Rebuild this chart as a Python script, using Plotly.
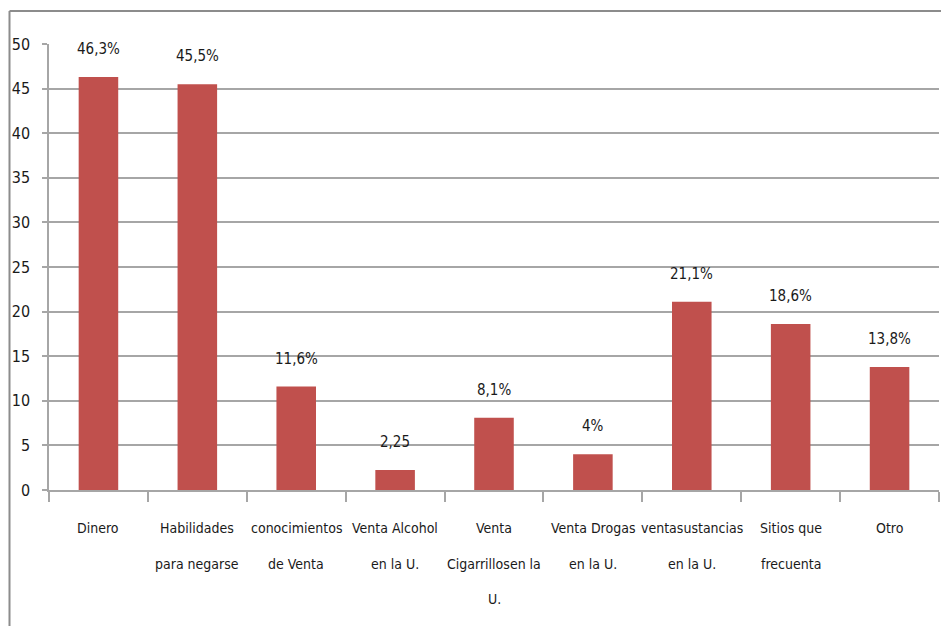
import plotly.graph_objects as go

# Survey categories (multi-line labels) and their percentages
categories = [
    "Dinero",
    "Habilidades<br>para negarse",
    "conocimientos<br>de Venta",
    "Venta Alcohol<br>en la U.",
    "Venta<br>Cigarrillosen la<br>U.",
    "Venta Drogas<br>en la U.",
    "ventasustancias<br>en la U.",
    "Sitios que<br>frecuenta",
    "Otro",
]
values = [46.3, 45.5, 11.6, 2.25, 8.1, 4, 21.1, 18.6, 13.8]
value_labels = ["46,3%", "45,5%", "11,6%", "2,25", "8,1%", "4%", "21,1%", "18,6%", "13,8%"]
y_ticks = [0, 5, 10, 15, 20, 25, 30, 35, 40, 45, 50]

FONT = "DejaVu Sans Condensed"
TEXT = "#1a1a1a"
GRID = "#a6a6a6"
BAR = "#C0504D"

W, H = 941, 626
L, R, T, B = 49, 2, 44, 136
PW, PH = W - L - R, H - T - B

fig = go.Figure(
    go.Bar(
        x=categories,
        y=values,
        marker=dict(color=BAR, line=dict(width=0)),
        hoverinfo="skip",
    )
)

annotations = []
# value labels above each bar
for cat, v, lab in zip(categories, values, value_labels):
    annotations.append(dict(
        x=cat, y=v, xref="x", yref="y", text=lab, showarrow=False,
        yanchor="middle", yshift=28,
        font=dict(family=FONT, size=15, color=TEXT),
    ))
# category labels below the axis, one annotation per line for wider spacing
for cat in categories:
    for i, line in enumerate(cat.split("<br>")):
        annotations.append(dict(
            x=cat, y=0, xref="x", yref="y", text=line, showarrow=False,
            yanchor="middle", yshift=-(38 + 35.5 * i),
            font=dict(family=FONT, size=14, color=TEXT),
        ))

def px_x(p):
    return (p - L) / PW

def px_y(p):
    return (H - B - p) / PH

shapes = [
    # outer frame: top and left edges
    dict(type="line", xref="paper", yref="paper",
         x0=px_x(9.5), x1=px_x(941), y0=px_y(11), y1=px_y(11),
         line=dict(color="#8c8c8c", width=2)),
    dict(type="line", xref="paper", yref="paper",
         x0=px_x(9.5), x1=px_x(9.5), y0=px_y(11), y1=px_y(626),
         line=dict(color="#8c8c8c", width=2)),
]

fig.update_layout(
    width=W, height=H,
    margin=dict(l=L, r=R, t=T, b=B, pad=0),
    paper_bgcolor="white", plot_bgcolor="white",
    bargap=0.6,
    showlegend=False,
    annotations=annotations,
    shapes=shapes,
    font=dict(family=FONT, size=15, color=TEXT),
)
fig.update_xaxes(
    type="category",
    showticklabels=False,
    showgrid=False,
    showline=True, linecolor=GRID, linewidth=1.5,
    ticks="outside", ticklen=10, tickcolor=GRID, tickwidth=1.5,
    tickson="boundaries",
)
fig.update_yaxes(
    range=[0, 50],
    tickvals=y_ticks,
    ticktext=[str(t) for t in y_ticks],
    showgrid=True, gridcolor=GRID, gridwidth=1.5,
    showline=True, linecolor=GRID, linewidth=1.5,
    ticks="outside", ticklen=5, tickcolor=GRID, tickwidth=1.5,
    ticklabelstandoff=9,
    tickfont=dict(family=FONT, size=16, color=TEXT),
    zeroline=False,
)

fig.write_html("out.html")
